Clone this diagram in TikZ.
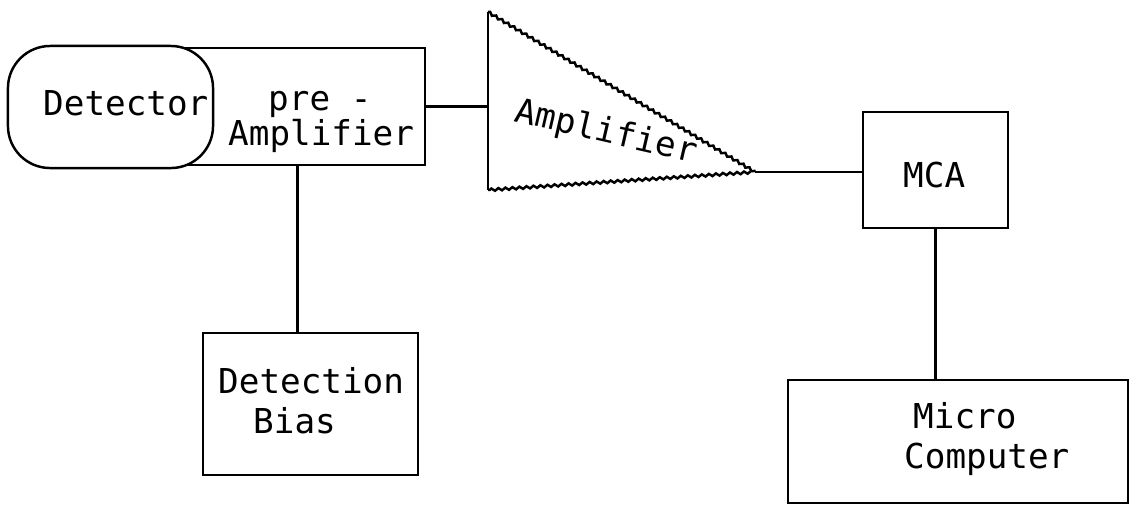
\documentclass[tikz,border=0pt]{standalone}
\usepackage{fontspec}
\newfontfamily\plotfont{DejaVu Sans Mono}
\usetikzlibrary{decorations.pathmorphing}
\tikzset{
	box/.style = {draw, rectangle, inner sep=0pt, outer sep=0pt, line width=0.7pt},
	lbl/.style = {anchor=base west, inner sep=0pt, font=\plotfont\fontsize{9.75}{12}\selectfont},
	rough/.style = {decorate, decoration={zigzag, amplitude=0.35pt, segment length=2pt}}
}
\begin{document}
\begin{tikzpicture}[x=0.01cm, y=-0.01cm, line width=0.7pt]
	\useasboundingbox (0,0) rectangle (1130,505);
	% boxes
	\node [box, minimum width=2.55cm, minimum height=1.17cm] (pre) at (297.5,106.5) {};
	\node [box, fill=white, rounded corners=12pt, minimum width=2.05cm, minimum height=1.22cm] (det) at (110.5,107) {};
	\node [box, minimum width=1.45cm, minimum height=1.16cm] (mca) at (935.5,170) {};
	\node [box, minimum width=2.15cm, minimum height=1.42cm] (bias) at (310.5,404) {};
	\node [box, minimum width=3.40cm, minimum height=1.23cm] (micro) at (958,441.5) {};
	% amplifier triangle
	\coordinate (amptop) at (488,12);
	\coordinate (ampbot) at (488,190);
	\coordinate (ampin) at (488,106.5);
	\coordinate (amptip) at (755,172);
	\draw (ampbot) -- (amptop);
	\draw [rough] (amptop) -- (amptip) -- (ampbot);
	% wires
	\draw (pre.east) -- (ampin);
	\draw (amptip) -- (amptip -| mca.west);
	\draw (pre.south) -- (pre.south |- bias.north);
	\draw (mca.south) -- (mca.south |- micro.north);
	% labels
	\node [lbl] (detlbl) at (42,115) {Detector};
	\node [lbl] (prelbl) at (267,110) {pre -};
	\node [lbl] (amplbl) at (227,145) {Amplifier};
	\node [lbl, rotate=-13] (ampname) at (512,121) {Amplifier};
	\node [lbl] (mcalbl) at (902,187) {MCA};
	\node [lbl] (biaslbl) at (217,393) {Detection};
	\node [lbl] (biaslblb) at (252,433) {Bias};
	\node [lbl] (microlbl) at (912,428) {Micro};
	\node [lbl] (microlblb) at (903,468) {Computer};
\end{tikzpicture}
\end{document}
